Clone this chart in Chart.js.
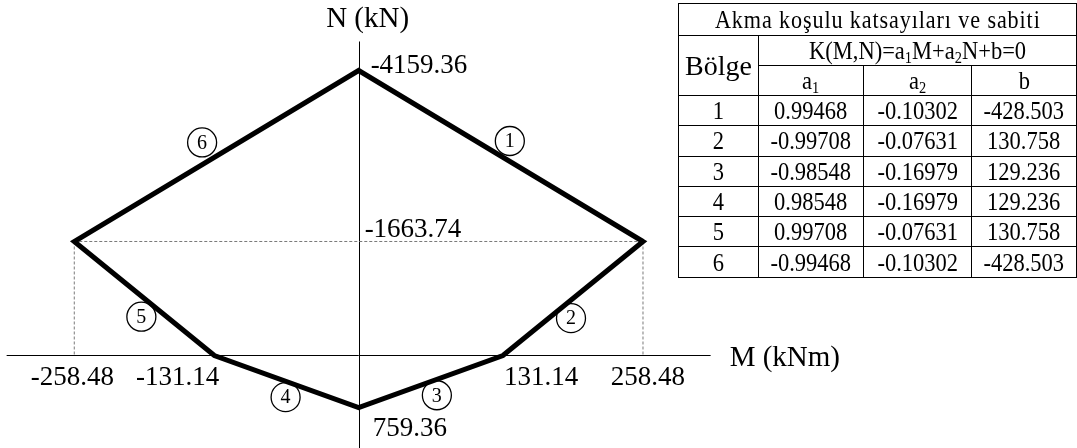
<!DOCTYPE html>
<html lang="tr">
<head>
<meta charset="utf-8">
<title>Akma yüzeyi</title>
<script src="https://cdn.jsdelivr.net/npm/chart.js@4.4.1/dist/chart.umd.min.js"></script>
<style>
  body { margin: 0; background: #fff; }
  #wrap { position: relative; width: 1077px; height: 448px; overflow: hidden; }
  #yieldChart { position: absolute; left: 0; top: 0; }
  #coefTable {
    position: absolute; left: 678px; top: 3px; width: 398px;
    table-layout: fixed; border-collapse: collapse;
    font-family: "Liberation Serif", "Times New Roman", serif; font-size: 25px; color: #000;
  }
  #coefTable th, #coefTable td {
    border: 1px solid #000; padding: 0; text-align: center; font-weight: normal;
    line-height: 1; white-space: nowrap; overflow: visible;
  }
  /* yazılar yatayda biraz sıkıştırılmış */
  #coefTable span { display: inline-block; transform: scaleX(0.9); }
  #coefTable .title span { letter-spacing: 1px; transform: scaleX(0.886); }
  #coefTable .bolge { font-size: 28px; }
  #coefTable .bolge span { transform: none; }
  #coefTable tr.h0 { height: 32px; }
  #coefTable tr.h1 { height: 30px; }
  #coefTable tbody tr { height: 30.3px; }
  #coefTable sub { font-size: 16px; vertical-align: -4px; line-height: 0; }
</style>
</head>
<body>
<div id="wrap">
  <canvas id="yieldChart" width="1077" height="448"></canvas>
  <table id="coefTable">
    <colgroup><col style="width:80px"><col style="width:105px"><col style="width:108px"><col style="width:105px"></colgroup>
    <thead>
      <tr class="h0"><th colspan="4" class="title"><span>Akma koşulu katsayıları ve sabiti</span></th></tr>
      <tr class="h1"><th rowspan="2" class="bolge"><span>Bölge</span></th><th colspan="3"><span>K(M,N)=a<sub>1</sub>M+a<sub>2</sub>N+b=0</span></th></tr>
      <tr class="h1"><th><span>a<sub>1</sub></span></th><th><span>a<sub>2</sub></span></th><th><span>b</span></th></tr>
    </thead>
    <tbody id="coefBody"></tbody>
  </table>
</div>
<script>
// Köşe noktaları (M, N) - saat yönünde, tepeden başlayarak
const momentValues = [0, 258.48, 131.14, 0, -131.14, -258.48];      // kNm
const axialValues  = [-4159.36, -1663.74, 0, 759.36, 0, -1663.74];  // kN

// Bölge katsayıları: K(M,N) = a1*M + a2*N + b = 0
const regionNos = [1, 2, 3, 4, 5, 6];
const a1Values = [0.99468, -0.99708, -0.98548, 0.98548, 0.99708, -0.99468];
const a2Values = [-0.10302, -0.07631, -0.16979, -0.16979, -0.07631, -0.10302];
const bValues  = [-428.503, 130.758, 129.236, 129.236, 130.758, -428.503];

// tablo
const tbody = document.getElementById('coefBody');
regionNos.forEach((no, i) => {
    tbody.innerHTML += `<tr><td><span>${no}</span></td><td><span>${a1Values[i].toFixed(5)}</span></td>` +
        `<td><span>${a2Values[i].toFixed(5)}</span></td><td><span>${bValues[i].toFixed(3)}</span></td></tr>`;
});

const pts = momentValues.map((m, i) => ({ x: m, y: axialValues[i] }));
// ilk kenar tekrar çiziliyor ki tepe köşesi de sivri birleşsin
const outline = pts.concat([pts[0], pts[1]]);

const L = 1, R = 5; // sağ ve sol köşe indeksleri
const guideData = [
    [pts[R], pts[L]],
    [pts[R], { x: pts[R].x, y: 0 }],
    [pts[L], { x: pts[L].x, y: 0 }]
];

// bölge numaralarının kenar üzerindeki yeri: oran ve dik kaçıklık (px)
const markerPos = [
    { t: 0.50, off: -17.5 }, { t: 0.577, off: -14 }, { t: 0.493, off: -15 },
    { t: 0.471, off: -15 }, { t: 0.449, off: -16 }, { t: 0.484, off: -19 }
];

const serif = '"Liberation Serif", "Times New Roman", serif';

const diagramPlugin = {
    id: 'diagram',
    beforeDatasetsDraw(chart) {
        const { ctx, scales: { x, y } } = chart;
        const x0 = x.getPixelForValue(0), y0 = y.getPixelForValue(0);
        ctx.save();
        ctx.strokeStyle = '#000';
        ctx.lineWidth = 1;
        ctx.beginPath();
        ctx.moveTo(x0 - 352, Math.round(y0) + 0.5);
        ctx.lineTo(x0 + 352, Math.round(y0) + 0.5);
        ctx.moveTo(Math.round(x0) + 0.5, y0 - 314);
        ctx.lineTo(Math.round(x0) + 0.5, chart.height);
        ctx.stroke();
        ctx.restore();
    },
    afterDatasetsDraw(chart) {
        const { ctx, scales: { x, y } } = chart;
        const x0 = x.getPixelForValue(0), y0 = y.getPixelForValue(0);
        const px = i => x.getPixelForValue(momentValues[i]);
        const py = i => y.getPixelForValue(axialValues[i]);
        ctx.save();
        ctx.fillStyle = '#000';
        ctx.textBaseline = 'alphabetic';

        // eksen başlıkları
        ctx.font = '29px ' + serif;
        ctx.textAlign = 'center';
        ctx.fillText('N (kN)', x0 + 9, 27);
        ctx.textAlign = 'left';
        ctx.fillText('M (kNm)', x0 + 371, y0 + 10.5);

        // değer etiketleri
        ctx.font = '27px ' + serif;
        ctx.textAlign = 'left';
        ctx.fillText(axialValues[0].toFixed(2), x0 + 12, py(0) + 3);
        ctx.fillText(axialValues[1].toFixed(2), x0 + 6, py(1) - 4);
        ctx.fillText(axialValues[3].toFixed(2), x0 + 14, py(3) + 28);
        ctx.fillText(momentValues[2].toFixed(2), px(2) + 1, y0 + 30);
        ctx.textAlign = 'right';
        ctx.fillText(momentValues[4].toFixed(2), px(4) + 5, y0 + 30);
        ctx.textAlign = 'center';
        ctx.fillText(momentValues[5].toFixed(2), px(5) - 2, y0 + 30);
        ctx.fillText(momentValues[1].toFixed(2), px(1) + 5, y0 + 30);

        // daire içinde bölge numaraları
        ctx.font = '20px ' + serif;
        ctx.textBaseline = 'middle';
        ctx.lineWidth = 1.3;
        ctx.strokeStyle = '#000';
        regionNos.forEach((no, i) => {
            const j = (i + 1) % pts.length;
            const ax = px(i), ay = py(i), bx = px(j), by = py(j);
            const dx = bx - ax, dy = by - ay, len = Math.hypot(dx, dy);
            const m = markerPos[i];
            const cx = ax + dx * m.t + (-dy / len) * m.off;
            const cy = ay + dy * m.t + (dx / len) * m.off;
            ctx.beginPath();
            ctx.arc(cx, cy, 14.5, 0, Math.PI * 2);
            ctx.stroke();
            ctx.fillText(String(no), cx, cy + 1);
        });
        ctx.restore();
    }
};

const ctxYield = document.getElementById('yieldChart').getContext('2d');
const yieldChart = new Chart(ctxYield, {
    type: 'scatter',
    data: {
        datasets: [
            {
                data: outline,
                showLine: true,
                borderColor: '#000',
                borderWidth: 5,
                borderJoinStyle: 'miter',
                pointRadius: 0,
                tension: 0,
                order: 0
            },
            ...guideData.map(d => ({
                data: d,
                showLine: true,
                borderColor: '#7a7a7a',
                borderWidth: 1,
                borderDash: [3, 2],
                pointRadius: 0,
                order: 1
            }))
        ]
    },
    options: {
        responsive: false,
        animation: false,
        layout: { padding: 0 },
        plugins: { legend: { display: false }, tooltip: { enabled: false } },
        scales: {
            x: { type: 'linear', display: false, min: -326, max: 653 },
            y: { type: 'linear', display: false, reverse: true, min: -5188, max: 1350 }
        }
    },
    plugins: [diagramPlugin]
});
</script>
</body>
</html>
